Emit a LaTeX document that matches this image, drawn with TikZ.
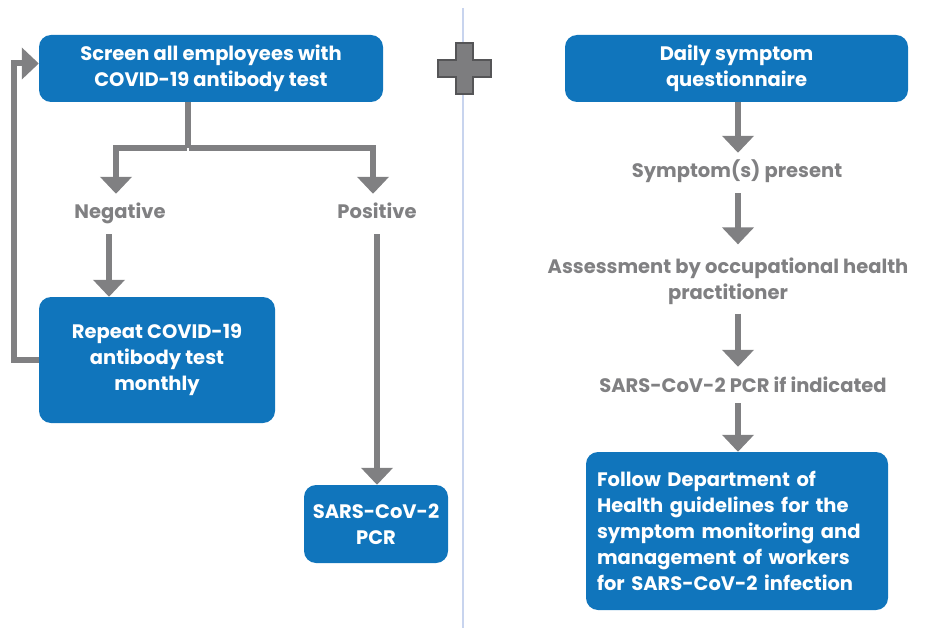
\documentclass[tikz,border=0pt]{standalone}
\usepackage{fontspec}
\setmainfont{Poppins}
\usepackage{tikz}
\usetikzlibrary{arrows.meta}
\definecolor{boxblue}{RGB}{16,117,188}
\definecolor{arrgray}{RGB}{128,128,130}
\definecolor{plusgray}{RGB}{125,125,127}
\definecolor{plusedge}{RGB}{85,85,87}
\definecolor{splitline}{RGB}{200,212,238}
\tikzset{>={Triangle[width=31pt,length=17pt]}}

\begin{document}
\begin{tikzpicture}[x=1pt, y=-1pt]
\tikzset{box/.style={rectangle, rounded corners=12pt, fill=boxblue, text=white, align=center,
                     font=\fontsize{19.5}{26}\selectfont\bfseries, inner sep=0pt},
         lbl/.style={text=arrgray, font=\fontsize{19.5}{26}\selectfont\bfseries, inner sep=10pt,
                     text height=15pt, text depth=5pt, anchor=base},
         arr/.style={->, draw=arrgray, line width=6pt},
         gline/.style={draw=arrgray, line width=6pt}}
    \useasboundingbox (0,0) rectangle (928,628);

    % divider and plus sign
    \coordinate (Dt) at (463,8);
    \coordinate (Db) at (463,628);
    \draw[splitline, line width=2pt] (Dt) -- (Db);
    \filldraw[fill=plusgray, draw=plusedge, line width=2pt]
        (456,43) -- (473,43) -- (473,60) -- (491,60) -- (491,77) -- (473,77)
        -- (473,94) -- (456,94) -- (456,77) -- (438,77) -- (438,60) -- (456,60) -- cycle;
% % % % % % % % % % % % % % % % % % %
    \node[box, minimum width=344pt, minimum height=67pt] (scr) at (211,68.5)
        {Screen all employees with\\COVID-19 antibody test};
    \node[lbl] (neg) at (120,219) {Negative};
    \node[lbl] (pos) at (377,219) {Positive};
    \node[box, minimum width=236pt, minimum height=126pt] (rep) at (157,360)
        {Repeat COVID-19\\antibody test\\monthly};
    \node[box, minimum width=144pt, minimum height=78pt] (pcr) at (376,524)
        {SARS-CoV-2\\PCR};

    \coordinate (Br) at (188,148);
    \draw[gline] (scr.south -| Br) -- (Br);
    \draw[arr] ([xshift=-1pt]Br) -| ([xshift=-4pt]neg.north);
    \draw[arr] ([xshift=1pt]Br) -| ([xshift=-4pt]pos.north);
    \draw[arr] ([xshift=-11pt]neg.south) -- ([xshift=-11pt]neg.south |- rep.north);
    \draw[arr] (pos.south) -- (pos.south |- pcr.north);
    \draw[arr] (rep.west) -- ++(-25,0) |- ([yshift=5pt]scr.west);
% % % % % % % % % % % % % % % % % % %
    \node[box, minimum width=343pt, minimum height=67pt] (daily) at (736.5,68.5)
        {Daily symptom\\questionnaire};
    \node[lbl] (sym) at (737,178) {Symptom(s) present};
    \node[text=arrgray, font=\fontsize{19.5}{26}\selectfont\bfseries, align=center, inner sep=9pt]
        (occ) at (728,281) {Assessment by occupational health\\practitioner};
    \node[lbl] (ind) at (743,392) {SARS-CoV-2 PCR if indicated};
    \node[box, minimum width=302pt, minimum height=158pt, text width=280pt, align=left] (doh) at (737,531)
        {Follow Department of\\Health guidelines for the\\symptom monitoring and\\management of workers\\for SARS-CoV-2 infection};

    \draw[arr] (daily.south -| 738,0) -- (sym.north -| 738,0);
    \draw[arr] (sym.south -| 738,0) -- ([yshift=4pt]occ.north -| 738,0);
    \draw[arr] (occ.south -| 738,0) -- (ind.north -| 738,0);
    \draw[arr] ([yshift=4pt]ind.south -| 738,0) -- (doh.north -| 738,0);
\end{tikzpicture}
\end{document}
